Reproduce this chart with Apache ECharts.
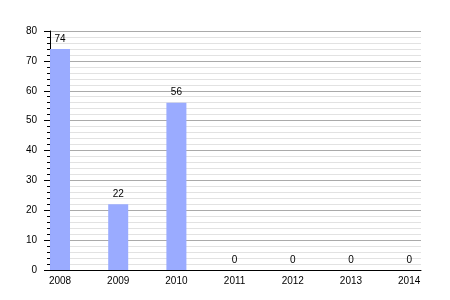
<!DOCTYPE html>
<html>
<head>
<meta charset="utf-8">
<script src="https://cdn.jsdelivr.net/npm/echarts@6/dist/echarts.min.js"></script>
<style>html,body{margin:0;padding:0;background:#fff;}#c{width:450px;height:300px;}</style>
</head>
<body>
<div id="c"></div>
<script>
const years = ['2008', '2009', '2010', '2011', '2012', '2013', '2014'];
const counts = [74, 22, 56, 0, 0, 0, 0];
const yTicks = [0, 10, 20, 30, 40, 50, 60, 70, 80];

const chart = echarts.init(document.getElementById('c'), null, {renderer: 'canvas'});
chart.setOption({
  animation: false,
  backgroundColor: '#ffffff',
  textStyle: {fontFamily: 'Liberation Sans, Arial, sans-serif'},
  grid: {left: 50, right: 29, top: 31, bottom: 30, containLabel: false},
  xAxis: {
    type: 'value',
    min: -0.172,
    max: 6.203,
    minInterval: 1,
    maxInterval: 1,
    axisLine: {show: true, onZero: false, lineStyle: {color: '#000', width: 1}},
    axisTick: {show: false},
    splitLine: {show: false},
    axisLabel: {
      color: '#000', fontSize: 10, margin: 6,
      formatter: function (v) {
        const i = Math.round(v);
        return Math.abs(v - i) < 1e-6 && years[i] !== undefined ? years[i] : '';
      }
    }
  },
  yAxis: {
    type: 'value',
    position: 'left',
    min: yTicks[0],
    max: yTicks[yTicks.length - 1],
    interval: 10,
    axisLine: {show: true, onZero: false, lineStyle: {color: '#000', width: 1}},
    axisTick: {show: true, inside: false, length: 6, lineStyle: {color: '#000'}},
    minorTick: {show: true, splitNumber: 5, length: 3, lineStyle: {color: '#000'}},
    splitLine: {show: true, lineStyle: {color: '#aaaaaa', width: 1}},
    minorSplitLine: {show: true, lineStyle: {color: '#e2e2e2', width: 1}},
    axisLabel: {color: '#000', fontSize: 10, margin: 13}
  },
  series: [{
    type: 'bar',
    barWidth: 20,
    data: counts.map((v, i) => [i, v]),
    itemStyle: {color: '#9aabff'},
    label: {
      show: true, position: 'top', distance: 5, color: '#000', fontSize: 10,
      formatter: p => String(p.value[1])
    }
  }]
});
</script>
</body>
</html>
